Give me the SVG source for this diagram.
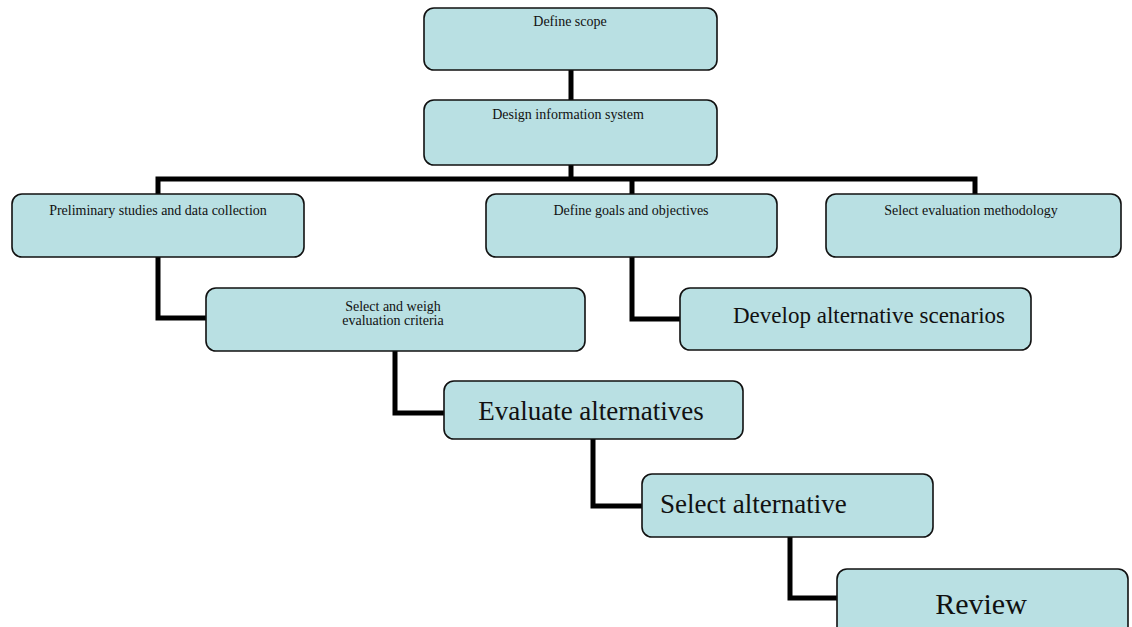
<svg xmlns="http://www.w3.org/2000/svg" width="1132" height="627" viewBox="0 0 1132 627">
  <style>
    .box { fill: #b9e0e3; stroke: #111; stroke-width: 1.6; }
    .link { fill: none; stroke: #000; stroke-width: 5; stroke-linejoin: miter; stroke-linecap: butt; }
    .t { font-family: "Liberation Serif", "Times New Roman", serif; fill: #111; }
    .sm { font-size: 14px; text-anchor: middle; }
  </style>
  <rect width="1132" height="627" fill="#fff"/>

  <!-- connectors -->
  <g id="connectors">
    <path class="link" d="M571 70 V100"/>
    <path class="link" d="M571 165 V179"/>
    <path class="link" d="M158 194 V179 H975 V194"/>
    <path class="link" d="M632 179 V194"/>
    <path class="link" d="M158 257 V318 H206"/>
    <path class="link" d="M632 257 V319 H680"/>
    <path class="link" d="M395 351 V413 H444"/>
    <path class="link" d="M593 439 V506 H642"/>
    <path class="link" d="M790 537 V598 H837"/>
  </g>

  <g id="define-scope">
    <rect class="box" x="424" y="8" width="293" height="62" rx="10"/>
    <text class="t sm" x="570" y="26">Define scope</text>
  </g>

  <g id="design-information-system">
    <rect class="box" x="424" y="100" width="293" height="65" rx="10"/>
    <text class="t sm" x="568" y="119">Design information system</text>
  </g>

  <g id="preliminary-studies">
    <rect class="box" x="12" y="194" width="292" height="63" rx="10"/>
    <text class="t sm" x="158" y="215">Preliminary studies and data collection</text>
  </g>

  <g id="define-goals">
    <rect class="box" x="486" y="194" width="291" height="63" rx="10"/>
    <text class="t sm" x="631" y="215">Define goals and objectives</text>
  </g>

  <g id="select-evaluation-methodology">
    <rect class="box" x="826" y="194" width="295" height="63" rx="10"/>
    <text class="t sm" x="971" y="215">Select evaluation methodology</text>
  </g>

  <g id="select-weigh-criteria">
    <rect class="box" x="206" y="288" width="379" height="63" rx="10"/>
    <text class="t sm" x="393" y="311">Select and weigh</text>
    <text class="t sm" x="393" y="325">evaluation criteria</text>
  </g>

  <g id="develop-scenarios">
    <rect class="box" x="680" y="288" width="351" height="62" rx="10"/>
    <text class="t" x="733" y="323" font-size="23">Develop alternative scenarios</text>
  </g>

  <g id="evaluate-alternatives">
    <rect class="box" x="444" y="381" width="299" height="58" rx="10"/>
    <text class="t" x="591" y="420" font-size="27" text-anchor="middle">Evaluate alternatives</text>
  </g>

  <g id="select-alternative">
    <rect class="box" x="642" y="474" width="291" height="63" rx="10"/>
    <text class="t" x="660" y="513" font-size="27">Select alternative</text>
  </g>

  <g id="review">
    <rect class="box" x="837" y="569" width="291" height="70" rx="10"/>
    <text class="t" x="981" y="614" font-size="30" text-anchor="middle">Review</text>
  </g>
</svg>
